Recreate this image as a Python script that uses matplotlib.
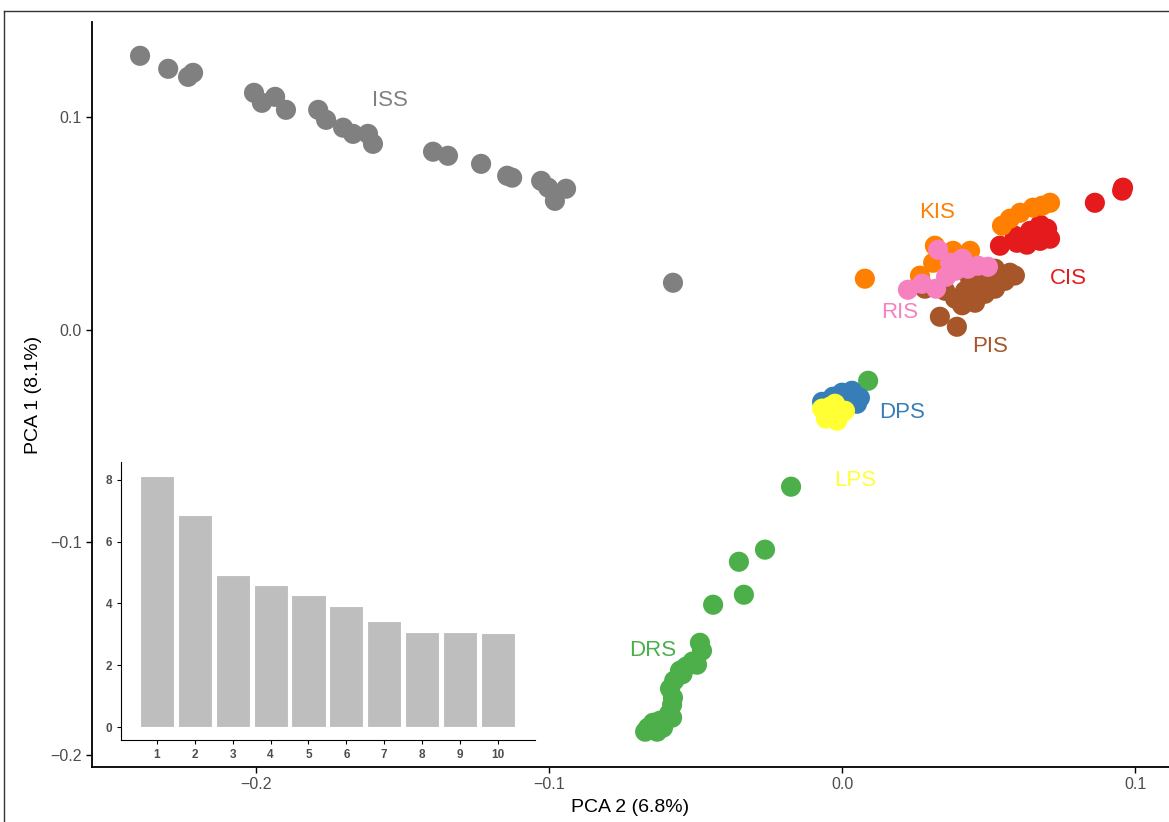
import numpy as np
import matplotlib.pyplot as plt
from matplotlib.lines import Line2D

plt.rcParams['font.family'] = ['Liberation Sans', 'DejaVu Sans']

# scatter data: PCA 2 (x), PCA 1 (y) per group
iss_x = [-0.2396, -0.2300, -0.2232, -0.2215, -0.2007, -0.1980, -0.1935, -0.1898, -0.1788, -0.1761,
         -0.1703, -0.1669, -0.1618, -0.1601, -0.1396, -0.1345, -0.1232, -0.1143, -0.1126, -0.1027,
         -0.1003, -0.0980, -0.0942, -0.0577]
iss_y = [0.1288, 0.1227, 0.1189, 0.1208, 0.1114, 0.1067, 0.1095, 0.1034, 0.1034, 0.0987,
         0.0950, 0.0921, 0.0921, 0.0874, 0.0837, 0.0818, 0.0780, 0.0724, 0.0715, 0.0700,
         0.0668, 0.0606, 0.0663, 0.0221]

drs_x = [0.0089, -0.0174, -0.0263, -0.0352, -0.0335, -0.0440, -0.0485, -0.0478, -0.0495, -0.0532,
         -0.0553, -0.0573, -0.0587, -0.0577, -0.0580, -0.0590, -0.0580, -0.0621, -0.0645, -0.0662,
         -0.0672, -0.0631, -0.0611, -0.0510, -0.0545]
drs_y = [-0.0240, -0.0738, -0.1034, -0.1091, -0.1246, -0.1293, -0.1472, -0.1509, -0.1575, -0.1584,
         -0.1603, -0.1650, -0.1688, -0.1730, -0.1763, -0.1805, -0.1824, -0.1838, -0.1848, -0.1871,
         -0.1890, -0.1890, -0.1871, -0.1560, -0.1620]

dps_x = [-0.0068, -0.0031, 0.0000, 0.0034, 0.0061, 0.0051, 0.0014]
dps_y = [-0.0339, -0.0315, -0.0296, -0.0287, -0.0320, -0.0348, -0.0357]

lps_x = [-0.0068, -0.0044, -0.0017, 0.0010, -0.0024, -0.0055, -0.0003, -0.0041]
lps_y = [-0.0371, -0.0400, -0.0428, -0.0381, -0.0348, -0.0418, -0.0395, -0.0362]

kis_x = [0.0078, 0.0546, 0.0573, 0.0608, 0.0652, 0.0683, 0.0710, 0.0317, 0.0379, 0.0437, 0.0266, 0.0311]
kis_y = [0.0240, 0.0489, 0.0522, 0.0550, 0.0574, 0.0583, 0.0597, 0.0395, 0.0371, 0.0371, 0.0254, 0.0315]

cis_x = [0.0863, 0.0956, 0.0959, 0.0539, 0.0597, 0.0631, 0.0676, 0.0710, 0.0676, 0.0642, 0.0700, 0.0590]
cis_y = [0.0597, 0.0654, 0.0668, 0.0395, 0.0409, 0.0400, 0.0418, 0.0428, 0.0494, 0.0465, 0.0475, 0.0442]

pis_x = [0.0334, 0.0392, 0.0403, 0.0444, 0.0488, 0.0522, 0.0556, 0.0573, 0.0539, 0.0505,
         0.0464, 0.0420, 0.0386, 0.0437, 0.0488, 0.0522, 0.0352, 0.0283, 0.0454, 0.0590,
         0.0470, 0.0505, 0.0410]
pis_y = [0.0061, 0.0014, 0.0136, 0.0146, 0.0169, 0.0193, 0.0230, 0.0268, 0.0254, 0.0230,
         0.0207, 0.0183, 0.0146, 0.0240, 0.0277, 0.0287, 0.0183, 0.0193, 0.0127, 0.0255,
         0.0170, 0.0200, 0.0115]

ris_x = [0.0225, 0.0273, 0.0321, 0.0328, 0.0369, 0.0410, 0.0430, 0.0464, 0.0498, 0.0355, 0.0386]
ris_y = [0.0188, 0.0216, 0.0193, 0.0376, 0.0315, 0.0334, 0.0287, 0.0301, 0.0296, 0.0249, 0.0277]

# group label positions
labels = ["ISS", "DRS", "DPS", "LPS", "KIS", "CIS", "RIS", "PIS"]
label_x = [-0.1543, -0.0645, 0.0205, 0.0044, 0.0324, 0.0771, 0.0198, 0.0505]
label_y = [0.1077, -0.1509, -0.0390, -0.0710, 0.0550, 0.0240, 0.0080, -0.0080]

# variance explained (%) for first 10 components
pc = np.arange(1, 11)
var_pct = [8.14, 6.85, 4.92, 4.60, 4.26, 3.91, 3.44, 3.09, 3.07, 3.04]

cols = {"ISS": "#808080", "DRS": "#4DAF4A", "DPS": "#377EB8", "LPS": "#FFFF33",
        "KIS": "#FF7F00", "CIS": "#E41A1C", "RIS": "#F781BF", "PIS": "#A65628"}

fig = plt.figure(figsize=(11.69, 8.22), dpi=100)
ax = fig.add_axes([92/1169, 1-767/822, 1-92/1169, (767-22)/822])

groups = [("ISS", iss_x, iss_y), ("DRS", drs_x, drs_y), ("DPS", dps_x, dps_y),
          ("LPS", lps_x, lps_y), ("CIS", cis_x, cis_y), ("KIS", kis_x, kis_y),
          ("PIS", pis_x, pis_y), ("RIS", ris_x, ris_y)]
for name, gx, gy in groups:
    ax.scatter(gx, gy, s=210, color=cols[name], edgecolors="none", zorder=3)

for lab, lx, ly in zip(labels, label_x, label_y):
    ax.text(lx, ly, lab, color=cols[lab], fontsize=16, ha="center", va="center", zorder=4)

ax.set_xlim(-0.256, 0.1116)
ax.set_ylim(-0.2056, 0.1447)
ax.set_xticks([-0.2, -0.1, 0.0, 0.1])
ax.set_xticklabels(["\u22120.2", "\u22120.1", "0.0", "0.1"])
ax.set_yticks([-0.2, -0.1, 0.0, 0.1])
ax.set_yticklabels(["\u22120.2", "\u22120.1", "0.0", "0.1"])
ax.tick_params(labelsize=11.5, labelcolor="#4D4D4D", length=4, width=1)
for s in ["top", "right"]:
    ax.spines[s].set_visible(False)
for s in ["left", "bottom"]:
    ax.spines[s].set_linewidth(1.3)
ax.set_xlabel("PCA 2 (6.8%)", fontsize=14, labelpad=5)
ax.set_ylabel("PCA 1 (8.1%)", fontsize=14, labelpad=6)

# inset scree plot
ins = fig.add_axes([121/1169, 1-740/822, (535-121)/1169, (740-462)/822])
ins.bar(pc, var_pct, width=0.9, color="#BEBEBE", edgecolor="white", linewidth=0.8)
ins.set_xlim(0.05, 10.98)
ins.set_ylim(-0.42, 8.58)
ins.set_xticks(pc)
ins.set_yticks([0, 2, 4, 6, 8])
ins.tick_params(labelsize=8.5, labelcolor="#4D4D4D", length=3)
for t in ins.get_xticklabels() + ins.get_yticklabels():
    t.set_fontweight("bold")
for s in ["top", "right"]:
    ins.spines[s].set_visible(False)

# outer frame (right/bottom edges fall outside the image)
fig.add_artist(Line2D([4/1169, 4/1169], [0, 1-11/822], color="#333333", lw=1, transform=fig.transFigure))
fig.add_artist(Line2D([4/1169, 1], [1-11/822, 1-11/822], color="#333333", lw=1, transform=fig.transFigure))

plt.savefig("out.png", dpi=100)
